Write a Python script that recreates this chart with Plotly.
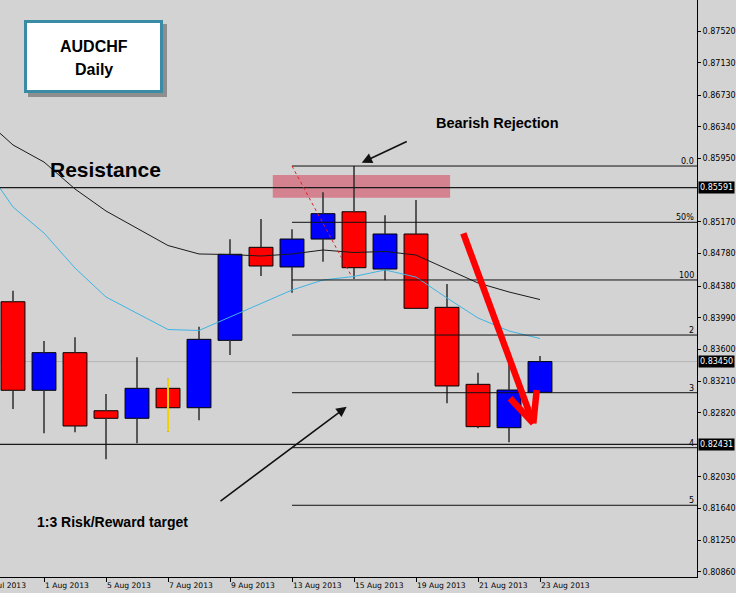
import plotly.graph_objects as go

# ---------------- data ----------------
dates = ["31 Jul 2013", "1 Aug 2013", "2 Aug 2013", "5 Aug 2013", "6 Aug 2013", "7 Aug 2013",
         "8 Aug 2013", "9 Aug 2013", "12 Aug 2013", "13 Aug 2013", "14 Aug 2013", "15 Aug 2013",
         "16 Aug 2013", "19 Aug 2013", "20 Aug 2013", "21 Aug 2013", "22 Aug 2013", "23 Aug 2013"]
opens  = [0.84187, 0.83097, 0.83560, 0.82845, 0.82752, 0.83121, 0.82882, 0.83712, 0.84857,
          0.84615, 0.84959, 0.85295, 0.84590, 0.85021, 0.84118, 0.83170, 0.82636, 0.83072]
highs  = [0.84323, 0.83704, 0.83749, 0.83051, 0.83503, 0.83239, 0.83880, 0.84956, 0.85206,
          0.85079, 0.85534, 0.85858, 0.85251, 0.85439, 0.84405, 0.83313, 0.83429, 0.83519]
lows   = [0.82866, 0.82567, 0.82580, 0.82247, 0.82444, 0.82587, 0.82727, 0.83531, 0.84504,
          0.84298, 0.84680, 0.84467, 0.84451, 0.84100, 0.82937, 0.82629, 0.82456, 0.83072]
closes = [0.83097, 0.83560, 0.82657, 0.82752, 0.83121, 0.82882, 0.83724, 0.84771, 0.84627,
          0.84959, 0.85271, 0.84606, 0.85021, 0.84106, 0.83150, 0.82649, 0.83100, 0.83450]

# moving averages, bar index -1 .. 17
ma_x = list(range(-1, 18))
ma_slow = [0.86461, 0.86117, 0.85907, 0.85575, 0.85304, 0.85089, 0.84879, 0.84775, 0.84768, 0.84750,
           0.84775, 0.84824, 0.84793, 0.84806, 0.84762, 0.84590, 0.84418, 0.84307, 0.84214]
ma_fast = [0.85907, 0.85353, 0.85033, 0.84602, 0.84245, 0.84042, 0.83845, 0.83833, 0.83999, 0.84159,
           0.84331, 0.84455, 0.84498, 0.84578, 0.84491, 0.84233, 0.83987, 0.83827, 0.83734]

fib_levels = [0.85858, 0.85165, 0.84455, 0.83777, 0.83067, 0.82390, 0.81681]
fib_labels = ["0.0", "50%", "100", "2", "3", "4", "5"]
fib_start = 9

resistance = 0.85591
support = 0.82431
bid = 0.83450
zone = [8.38, 14.1, 0.85468, 0.85747]

ytick_vals = [0.87910, 0.87520, 0.87130, 0.86730, 0.86340, 0.85950, 0.85170, 0.84780, 0.84380,
              0.83990, 0.83600, 0.83210, 0.82820, 0.82030, 0.81640, 0.81250, 0.80860]
date_tick_pos = [-1, 1, 3, 5, 7, 9, 11, 13, 15, 17]
date_tick_txt = ["30 Jul 2013", "1 Aug 2013", "5 Aug 2013", "7 Aug 2013", "9 Aug 2013",
                 "13 Aug 2013", "15 Aug 2013", "19 Aug 2013", "21 Aug 2013", "23 Aug 2013"]

# ---------------- layout geometry ----------------
PW, PH = 697, 577
XR = [-13 / 31, 684 / 31]
YR = [0.80798, 0.87902]
BG = "#d3d3d3"


def pxx(v):
    return v / PW


def pxy(v):
    return 1 - v / PH


idx = list(range(len(dates)))
fig = go.Figure()

# wicks (split so they do not cross the bodies)
wx, wy = [], []
for i in idx:
    top = max(opens[i], closes[i])
    bot = min(opens[i], closes[i])
    wx += [i, i, None, i, i, None]
    wy += [highs[i], top, None, bot, lows[i], None]
fig.add_trace(go.Scatter(x=wx, y=wy, mode="lines", line=dict(color="#2e2e2e", width=1.5),
                         hoverinfo="skip"))

# bodies
fig.add_trace(go.Bar(
    x=idx,
    y=[abs(closes[i] - opens[i]) for i in idx],
    base=[min(opens[i], closes[i]) for i in idx],
    width=0.77,
    marker=dict(color=["#0000ff" if closes[i] >= opens[i] else "#ff0000" for i in idx],
                line=dict(color="#000000", width=1)),
    hoverinfo="skip",
))

# highlighted (yellow) wick of 7 Aug
fig.add_trace(go.Scatter(x=[5, 5], y=[highs[5], lows[5]], mode="lines",
                         line=dict(color="#f2d200", width=2), hoverinfo="skip"))

# moving averages
fig.add_trace(go.Scatter(x=ma_x, y=ma_slow, mode="lines", line=dict(color="#1a1a1a", width=1),
                         hoverinfo="skip"))
fig.add_trace(go.Scatter(x=ma_x, y=ma_fast, mode="lines", line=dict(color="#3fb4e4", width=1),
                         hoverinfo="skip"))

shapes = []
# resistance zone
shapes.append(dict(type="rect", xref="x", yref="y", x0=zone[0], x1=zone[1], y0=zone[2], y1=zone[3],
                   fillcolor="#d4828f", line=dict(width=0), layer="below"))
# bid line
shapes.append(dict(type="line", xref="paper", yref="y", x0=0, x1=1, y0=bid, y1=bid,
                   line=dict(color="#b5b5b5", width=1), layer="below"))
# resistance / support lines
for lv in (resistance, support):
    shapes.append(dict(type="line", xref="paper", yref="y", x0=0, x1=1, y0=lv, y1=lv,
                       line=dict(color="#1a1a1a", width=1.2)))
# fib lines
for lv in fib_levels:
    shapes.append(dict(type="line", xref="x", yref="y", x0=fib_start, x1=XR[1], y0=lv, y1=lv,
                       line=dict(color="#111111", width=1)))
# dotted red trend line
shapes.append(dict(type="line", xref="x", yref="y", x0=9.0, y0=0.85858, x1=10.93, y1=0.84495,
                   line=dict(color="#e0201e", width=1, dash="dot")))
# big red arrow (shaft + two arms)
tip = (16.784, 0.82690)
for (ax0, ay0) in [(14.526, 0.85029), (16.032, 0.82998), (16.894, 0.83100)]:
    shapes.append(dict(type="line", xref="x", yref="y", x0=ax0, y0=ay0, x1=tip[0], y1=tip[1],
                       line=dict(color="#ff0000", width=6.5)))
# title box: shadow + framed white box
shapes.append(dict(type="rect", xref="paper", yref="paper", x0=pxx(28), x1=pxx(167),
                   y0=pxy(97), y1=pxy(24), fillcolor="#8e8e8e", line=dict(width=0)))
shapes.append(dict(type="rect", xref="paper", yref="paper", x0=pxx(25.5), x1=pxx(161.5),
                   y0=pxy(91.5), y1=pxy(21.5), fillcolor="#ffffff",
                   line=dict(color="#3a8ca6", width=3)))

annotations = []
txtfont = "Liberation Sans, Arial, sans-serif"
annotations += [
    dict(xref="paper", yref="paper", x=pxx(93.5), y=pxy(47), text="<b>AUDCHF</b>", showarrow=False,
         font=dict(family=txtfont, size=16, color="#000"), xanchor="center", yanchor="middle"),
    dict(xref="paper", yref="paper", x=pxx(93.5), y=pxy(69), text="<b>Daily</b>", showarrow=False,
         font=dict(family=txtfont, size=16, color="#000"), xanchor="center", yanchor="middle"),
    dict(xref="paper", yref="paper", x=pxx(105.5), y=pxy(170), text="<b>Resistance</b>", showarrow=False,
         font=dict(family=txtfont, size=21, color="#000"), xanchor="center", yanchor="middle"),
    dict(xref="paper", yref="paper", x=pxx(497), y=pxy(123), text="<b>Bearish Rejection</b>",
         showarrow=False, font=dict(family=txtfont, size=14.5, color="#000"),
         xanchor="center", yanchor="middle"),
    dict(xref="paper", yref="paper", x=pxx(113), y=pxy(522), text="<b>1:3 Risk/Reward target</b>",
         showarrow=False, font=dict(family=txtfont, size=14, color="#000"),
         xanchor="center", yanchor="middle"),
]
# black arrows
for (hx, hy, tx, ty) in [(11.25, 0.85899, 12.75, 0.86169), (10.765, 0.82895, 6.645, 0.81718)]:
    annotations.append(dict(xref="x", yref="y", axref="x", ayref="y", x=hx, y=hy, ax=tx, ay=ty,
                            text="", showarrow=True, arrowhead=2, arrowsize=1.3, arrowwidth=1.6,
                            arrowcolor="#111"))
# fib labels
for lv, lb in zip(fib_levels, fib_labels):
    annotations.append(dict(xref="paper", yref="y", x=1, y=lv, text=lb, showarrow=False,
                            xanchor="right", yanchor="bottom", xshift=-1, yshift=-2,
                            font=dict(family="DejaVu Sans", size=8, color="#000")))
# highlighted price labels
for lv in (resistance, bid, support):
    annotations.append(dict(xref="paper", yref="y", x=1, y=lv, text="%.5f" % lv, showarrow=False,
                            xanchor="left", yanchor="middle", xshift=1, bgcolor="#000000",
                            borderpad=1, font=dict(family="DejaVu Sans", size=8, color="#ffffff")))
# date labels (left-aligned after each tick, MT4 style)
for p, t in zip(date_tick_pos, date_tick_txt):
    annotations.append(dict(xref="paper", yref="paper", x=(13 + 31 * p) / PW, y=0, text=t,
                            showarrow=False, xanchor="left", yanchor="top", xshift=-1, yshift=-2,
                            font=dict(family="DejaVu Sans", size=7.6, color="#000")))

fig.update_layout(
    width=736, height=593,
    margin=dict(l=0, r=39, t=0, b=16, pad=0),
    paper_bgcolor=BG, plot_bgcolor=BG,
    showlegend=False, hovermode=False,
    shapes=shapes, annotations=annotations,
    xaxis=dict(range=XR, showgrid=False, zeroline=False, showline=True, linecolor="#000",
               linewidth=1, ticks="outside", ticklen=4, tickcolor="#000",
               tickvals=[p for p in date_tick_pos if p >= 0], showticklabels=False,
               fixedrange=True),
    yaxis=dict(range=YR, side="right", showgrid=False, zeroline=False, showline=True,
               linecolor="#000", linewidth=1, ticks="outside", ticklen=3, tickcolor="#000",
               tickvals=ytick_vals, ticktext=["%.5f" % v for v in ytick_vals],
               tickfont=dict(family="DejaVu Sans", size=8, color="#000"),
               automargin=False, fixedrange=True),
)

fig.write_html("out.html", config={"displayModeBar": False},
               post_script="document.body.style.margin='0';")
